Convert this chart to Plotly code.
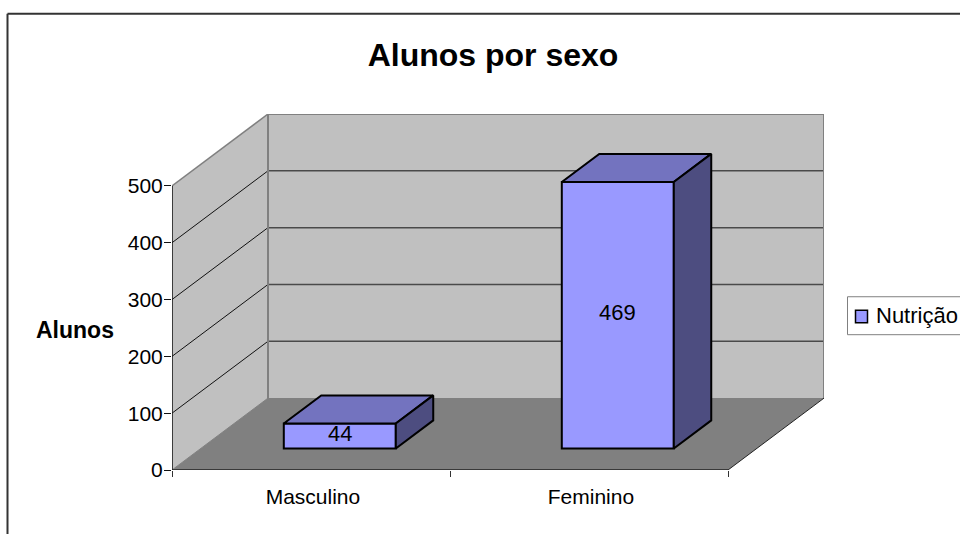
import plotly.graph_objects as go

# Data
categories = ["Masculino", "Feminino"]
series_name = "Nutrição"
values = [44, 469]
y_ticks = [0, 100, 200, 300, 400, 500]

# Canvas and plot geometry (pixels)
W, H = 960, 534
L, R, T, B = 172, 824, 114, 470.5
UX = 278.0            # px per category
UY = 284.5 / 500      # px per value unit
xmax = (R - L) / UX
ymax = (B - T) / UY
DX = 96 / UX          # depth vector in data units
DY = 72 / UY
FRONT, BACK = 0.30, 0.69   # bar depth span (fraction of floor depth)
BAR_W = 112 / UX


def proj(x, y, d):
    return x + d * DX, y + d * DY


def poly(points, fill, lw=0, lc=None):
    path = "M " + " L ".join(f"{x},{y}" for x, y in points) + " Z"
    return dict(type="path", path=path, xref="x", yref="y", layer="below",
                fillcolor=fill, line=dict(width=lw, color=lc or fill))


def seg(p, q, color, width):
    return dict(type="line", xref="x", yref="y", layer="below",
                x0=p[0], y0=p[1], x1=q[0], y1=q[1], line=dict(color=color, width=width))


def pax(xp):
    return (xp - L) / (R - L)


def pay(yp):
    return (B - yp) / (B - T)


shapes = []
top = y_ticks[-1]
# walls and floor
shapes.append(poly([proj(0, 0, 0), proj(0, top, 0), proj(0, top, 1), proj(0, 0, 1)], "#C0C0C0"))
shapes.append(poly([proj(0, 0, 1), proj(0, top, 1), proj(2, top, 1), proj(2, 0, 1)], "#C0C0C0"))
shapes.append(poly([proj(0, 0, 0), proj(2, 0, 0), proj(2, 0, 1), proj(0, 0, 1)], "#808080"))
# grid
for v in y_ticks[1:-1]:
    shapes.append(seg(proj(0, v, 0), proj(0, v, 1), "#111111", 1))
    shapes.append(seg(proj(0, v, 1), proj(2, v, 1), "#4A4A4A", 1.5))
# wall edges
G = "#808080"
shapes.append(seg(proj(0, top, 0), proj(0, top, 1), G, 1.5))
shapes.append(seg(proj(0, top, 1), proj(2, top, 1), G, 2))
shapes.append(seg(proj(0, 0, 1), proj(0, top, 1), G, 2))
shapes.append(seg(proj(2, 0, 1), proj(2, top, 1), G, 2))
shapes.append(seg(proj(0, 0, 0), proj(0, 0, 1), G, 1))
shapes.append(seg(proj(2, 0, 0), proj(2, 0, 1), "#222222", 1))
# axis lines
shapes.append(seg(proj(0, 0, 0), proj(0, top, 0), "#111111", 1.5))
shapes.append(seg(proj(0, 0, 0), proj(2, 0, 0), "#222222", 1.5))

fig = go.Figure()

# front faces of the bars
centres = [i + 0.5 for i in range(len(values))]
bar_x = [c + FRONT * DX for c in centres]
fig.add_trace(go.Bar(
    x=bar_x, y=values, base=[FRONT * DY] * len(values), width=BAR_W, name=series_name,
    marker=dict(color="#9999FF", line=dict(color="#000000", width=2)),
    hoverinfo="skip", showlegend=False,
))

# top and side faces
for c, v in zip(centres, values):
    l, r = c - BAR_W / 2, c + BAR_W / 2
    top_face = [proj(l, v, FRONT), proj(r, v, FRONT), proj(r, v, BACK), proj(l, v, BACK), proj(l, v, FRONT)]
    side_face = [proj(r, 0, FRONT), proj(r, v, FRONT), proj(r, v, BACK), proj(r, 0, BACK), proj(r, 0, FRONT)]
    for pts, col in ((top_face, "#7373BF"), (side_face, "#4D4D80")):
        fig.add_trace(go.Scatter(
            x=[p[0] for p in pts], y=[p[1] for p in pts], mode="lines", fill="toself",
            fillcolor=col, line=dict(color="#000000", width=2), showlegend=False, hoverinfo="skip",
        ))

FONT = "Liberation Sans"
value_labels = [
    dict(text=str(v), x=bx, y=FRONT * DY + v / 2, xref="x", yref="y", showarrow=False,
         xanchor="center", yanchor="middle", yshift=2.5,
         font=dict(family=FONT, size=22, color="#000000"))
    for bx, v in zip(bar_x, values)
]

fig.update_layout(
    width=W, height=H, autosize=False, showlegend=False,
    margin=dict(l=L, r=W - R, t=T, b=H - B, pad=0),
    paper_bgcolor="#FFFFFF", plot_bgcolor="rgba(0,0,0,0)",
    font=dict(family=FONT, size=21, color="#000000"),
    shapes=shapes, barmode="overlay",
    xaxis=dict(
        range=[0, xmax], showgrid=False, zeroline=False, showline=False,
        tickmode="array", tickvals=[c + 0.007 for c in centres], ticktext=categories, ticks="",
        tickfont=dict(family=FONT, size=21), ticklabelstandoff=12,
        minor=dict(tickmode="array", tickvals=[0, 1, 2], ticks="outside", ticklen=6,
                   tickcolor="#333333", tickwidth=1, showgrid=False),
    ),
    yaxis=dict(
        range=[0, ymax], showgrid=False, zeroline=False, showline=False,
        tickmode="array", tickvals=y_ticks, ticks="outside", ticklen=7,
        tickcolor="#111111", tickwidth=1, tickfont=dict(family=FONT, size=21),
        ticklabelstandoff=-3,
    ),
    title=dict(text="<b>Alunos por sexo</b>", x=493 / W, xanchor="center", y=1 - 55 / H,
               yanchor="middle", font=dict(family=FONT, size=32, color="#000000")),
    annotations=value_labels + [
        dict(text="<b>Alunos</b>", xref="paper", yref="paper", showarrow=False,
             x=pax(75), y=pay(330), xanchor="center", yanchor="middle",
             font=dict(family=FONT, size=23, color="#000000")),
        dict(text=series_name, xref="paper", yref="paper", showarrow=False,
             x=pax(876), y=pay(316), xanchor="left", yanchor="middle",
             xshift=-2, font=dict(family=FONT, size=22, color="#000000")),
    ],
)

# chart frame and legend box: parts fall outside the picture
frame = dict(type="line", xref="paper", yref="paper", layer="below",
             line=dict(color="#333333", width=2))
fig.add_shape(**frame, x0=pax(7.5), x1=pax(7.5), y0=pay(H + 5), y1=pay(13.5))
fig.add_shape(**frame, x0=pax(7.5), x1=pax(W + 5), y0=pay(13.5), y1=pay(13.5))
fig.add_shape(type="rect", xref="paper", yref="paper", layer="below",
              x0=pax(847.5), x1=pax(W + 5), y0=pay(335), y1=pay(297),
              fillcolor="#FFFFFF", line=dict(color="#808080", width=1))
fig.add_shape(type="rect", xref="paper", yref="paper", layer="below",
              x0=pax(855.5), x1=pax(867.5), y0=pay(323), y1=pay(310.5),
              fillcolor="#9999FF", line=dict(color="#000000", width=1.5))

fig.write_html("out.html", config=dict(displayModeBar=False),
               post_script="document.body.style.margin='0';")
